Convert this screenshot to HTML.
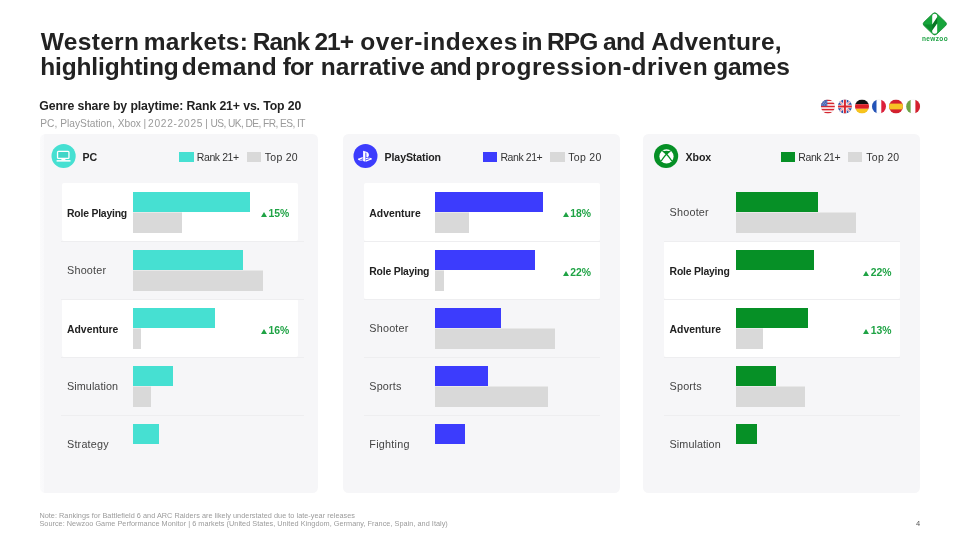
<!DOCTYPE html>
<html lang="en"><head><meta charset="utf-8"><title>Western markets: Rank 21+ over-indexes in RPG and Adventure</title>
<style>
html,body{margin:0;padding:0}
body{width:960px;height:540px;position:relative;overflow:hidden;background:#fff;font-family:"Liberation Sans",sans-serif;color:#222}
div,span,svg{position:absolute;white-space:nowrap}
.title{left:40px;font-size:24.5px;line-height:26px;font-weight:bold;color:#222}
.sub{left:39.3px;top:98.2px;font-size:12.3px;line-height:16px;font-weight:bold;color:#222;letter-spacing:-0.125px}
.sub2{left:39.3px;top:117.1px;font-size:10.2px;line-height:14px;color:#9a9a9a;letter-spacing:-0.107px}
.panel{top:133.6px;height:359.8px;background:#f6f6f8;border-radius:5.5px}
.card{height:58px;background:#fff;border-radius:2px}
.sep{height:1px;background:#eeeef0}
.ic{width:26px;height:26px}
.pname{top:149.9px;letter-spacing:-0.12px;font-size:10.6px;line-height:14px;font-weight:bold;color:#222}
.sw{top:152.1px;width:14.4px;height:10.2px}
.lt{top:150px;font-size:10.5px;line-height:14px;color:#333}
.lab{font-size:10.8px;line-height:14px;color:#444}
.lab.b{font-weight:bold;color:#222;font-size:10.4px}
.bar{height:20.2px}
.g{background:#d9d9d9}
.bar.g{box-shadow:inset 0 1px 0 rgba(255,255,255,.4)}
.pct{font-size:10.4px;line-height:14px;font-weight:bold;color:#1fa345}
.pct i{position:relative;display:inline-block;width:0;height:0;border-left:3.1px solid transparent;border-right:3.1px solid transparent;border-bottom:5.6px solid #1fa345;margin-right:1.5px;top:0.3px}
.foot{left:39.4px;top:511.9px;font-size:7.3px;line-height:8.25px;color:#9b9b9b;letter-spacing:0.03px}
.pg{left:916px;top:518.6px;font-size:7.5px;line-height:9px;color:#555}
.flag{width:16px;height:16px}
</style></head><body>
<div class="title" style="top:28.5px;left:0;width:960px;height:26px"><span style="left:40.7px;letter-spacing:0.34px">Western</span> <span style="left:143.7px;letter-spacing:0.30px">markets:</span> <span style="left:252.8px;letter-spacing:-0.90px">Rank</span> <span style="left:314.4px;letter-spacing:-0.90px">21+</span> <span style="left:360.3px;letter-spacing:0.53px">over-indexes</span> <span style="left:521.6px;letter-spacing:-0.90px">in</span> <span style="left:546.9px;letter-spacing:-0.90px">RPG</span> <span style="left:603.0px;letter-spacing:-0.70px">and</span> <span style="left:651.3px;letter-spacing:0.26px">Adventure,</span> </div>
<div class="title" style="top:54.2px;left:0;width:960px;height:26px"><span style="left:40.3px;letter-spacing:-0.16px">highlighting</span> <span style="left:181.7px;letter-spacing:0.23px">demand</span> <span style="left:282.7px;letter-spacing:-0.90px">for</span> <span style="left:320.7px;letter-spacing:0.08px">narrative</span> <span style="left:429.9px;letter-spacing:-0.90px">and</span> <span style="left:475.3px;letter-spacing:0.54px">progression-driven</span> <span style="left:713.2px;letter-spacing:-0.25px">games</span> </div>

<div class="sub">Genre share by playtime: Rank 21+ vs. Top 20</div>
<div class="sub2" style="left:0;width:960px;height:14px;letter-spacing:0"><span style="left:40.3px;letter-spacing:0.02px">PC, PlayStation, Xbox</span> <span style="left:143.4px;letter-spacing:0.00px">|</span> <span style="left:148.1px;letter-spacing:0.71px">2022-2025</span> <span style="left:205.3px;letter-spacing:0.00px">|</span> <span style="left:210.6px;letter-spacing:-0.58px">US, UK, DE, FR, ES, IT</span> </div>

<svg style="left:920px;top:10px;width:30px;height:28px" viewBox="0 0 30 28">
<path d="M12.700 3.700a3.000 3.000 0 0 1 4.200 0l8.600 8.200a2.700 2.700 0 0 1 0 3.900l-8.600 8.200a3.000 3.000 0 0 1-4.200 0l-8.600-8.200a2.700 2.700 0 0 1 0-3.900z" fill="#17a53b" stroke="#0a8428" stroke-width="0.7"/>
<path d="M12.200 14.500L4.000 14.500l8.200 7.800z" fill="#0d8c2d"/>
<path d="M17.200 7.100v6.300l-5 7v-5.900z" fill="#087523"/>
<path d="M12.200 6.300a2.500 2.500 0 0 1 5 0v0.800l-5 7.400z" fill="#fff"/>
<path d="M17.200 21.300a2.500 2.500 0 0 1-5 0v-0.900l5-7z" fill="#fff"/>
</svg>
<div style="left:920px;top:35.4px;width:30px;text-align:center;font-size:6.5px;line-height:8px;font-weight:bold;color:#1fa345;letter-spacing:0.35px">newzoo</div>
<svg class="flag" viewBox="-1.90 -1.50 16 16" style="left:819px;top:98px"><defs><clipPath id="cus"><circle cx="7" cy="7" r="7"/></clipPath></defs><g clip-path="url(#cus)"><rect width="14" height="14" fill="#fff"/><g fill="#d8262f"><rect y="0.00" width="14" height="1.56"/><rect y="3.11" width="14" height="1.56"/><rect y="6.22" width="14" height="1.56"/><rect y="9.33" width="14" height="1.56"/><rect y="12.44" width="14" height="1.56"/></g><rect width="6.4" height="6.6" fill="#4a66b4"/><g fill="#c9d2ea"><circle cx="1.9" cy="2.4" r=".45"/><circle cx="3.7" cy="2.4" r=".45"/><circle cx="5.4" cy="2.4" r=".45"/><circle cx="2.8" cy="3.9" r=".45"/><circle cx="4.6" cy="3.9" r=".45"/><circle cx="1.9" cy="5.4" r=".45"/><circle cx="3.7" cy="5.4" r=".45"/><circle cx="5.4" cy="5.4" r=".45"/></g></g><circle cx="7" cy="7" r="6.85" fill="none" stroke="rgba(120,120,120,0.18)" stroke-width="0.3"/></svg>
<svg class="flag" viewBox="-1.90 -1.50 16 16" style="left:836px;top:98px"><defs><clipPath id="cuk"><circle cx="7" cy="7" r="7"/></clipPath></defs><g clip-path="url(#cuk)"><rect width="14" height="14" fill="#2a4fa8"/><path d="M0 0L14 14M14 0L0 14" stroke="#fff" stroke-width="2"/><path d="M0 0L14 14M14 0L0 14" stroke="#d8262f" stroke-width="0.7"/><path d="M7 0V14M0 7H14" stroke="#fff" stroke-width="3.6"/><path d="M7 0V14M0 7H14" stroke="#d8262f" stroke-width="2"/></g><circle cx="7" cy="7" r="6.85" fill="none" stroke="rgba(120,120,120,0.18)" stroke-width="0.3"/></svg>
<svg class="flag" viewBox="-1.00 -1.50 16 16" style="left:854px;top:98px"><defs><clipPath id="cde"><circle cx="7" cy="7" r="7"/></clipPath></defs><g clip-path="url(#cde)"><rect width="14" height="4.7" fill="#111"/><rect y="4.7" width="14" height="4.6" fill="#dd1f26"/><rect y="9.3" width="14" height="4.7" fill="#f8c41c"/></g><circle cx="7" cy="7" r="6.85" fill="none" stroke="rgba(120,120,120,0.18)" stroke-width="0.3"/></svg>
<svg class="flag" viewBox="-1.00 -1.50 16 16" style="left:871px;top:98px"><defs><clipPath id="cfr"><circle cx="7" cy="7" r="7"/></clipPath></defs><g clip-path="url(#cfr)"><rect width="4.7" height="14" fill="#2353b8"/><rect x="4.7" width="4.6" height="14" fill="#fff"/><rect x="9.3" width="4.7" height="14" fill="#dd1f3a"/></g><circle cx="7" cy="7" r="6.85" fill="none" stroke="rgba(120,120,120,0.18)" stroke-width="0.3"/></svg>
<svg class="flag" viewBox="-1.00 -1.50 16 16" style="left:888px;top:98px"><defs><clipPath id="ces"><circle cx="7" cy="7" r="7"/></clipPath></defs><g clip-path="url(#ces)"><rect width="14" height="14" fill="#d4202e"/><rect y="4.1" width="14" height="5.8" fill="#f7c325"/></g><circle cx="7" cy="7" r="6.85" fill="none" stroke="rgba(120,120,120,0.18)" stroke-width="0.3"/></svg>
<svg class="flag" viewBox="-1.10 -1.50 16 16" style="left:905px;top:98px"><defs><clipPath id="cit"><circle cx="7" cy="7" r="7"/></clipPath></defs><g clip-path="url(#cit)"><rect width="4.7" height="14" fill="#6da544"/><rect x="4.700" width="4.600" height="14" fill="#fff"/><rect x="9.300" width="4.700" height="14" fill="#d4202e"/></g><circle cx="7" cy="7" r="6.85" fill="none" stroke="rgba(120,120,120,0.18)" stroke-width="0.3"/></svg>
<div class="panel" style="left:40.2px;width:277.6px;background:linear-gradient(90deg,#fbfbfc 0,#f9f9fb 3.6px,#f6f6f8 4.2px)"></div>
<svg class="ic" viewBox="-1.60 -1.00 26 26" style="left:50px;top:143px"><circle cx="12" cy="12" r="12.1" fill="#46e0d2"/><rect x="5.95" y="7.3" width="11.4" height="7" rx="0.9" fill="#3fd6c8" stroke="#fff" stroke-width="1.3"/><rect x="9.8" y="14.9" width="4" height="1.4" fill="#fff"/><rect x="5" y="16.1" width="13.9" height="1.5" fill="#fff"/></svg>
<div class="pname" style="left:82.6px">PC</div>
<div class="sw" style="left:179.4px;background:#46e0d2"></div><div class="lt" style="left:196.8px;letter-spacing:-0.42px">Rank 21+</div><div class="sw g" style="left:246.6px"></div><div class="lt" style="left:264.7px;letter-spacing:0.3px">Top 20</div>
<div class="card" style="left:61.5px;top:182.6px;width:236.0px;height:58.4px"></div>
<div class="card" style="left:61.5px;top:298.6px;width:236.0px;height:58.4px"></div>
<div class="sep" style="left:60.5px;top:240.5px;width:243.0px"></div>
<div class="sep" style="left:60.5px;top:298.5px;width:243.0px"></div>
<div class="sep" style="left:60.5px;top:356.5px;width:243.0px"></div>
<div class="sep" style="left:60.5px;top:414.5px;width:243.0px"></div>
<div class="lab b" style="left:67.0px;top:206.6px;letter-spacing:-0.2px">Role Playing</div><div class="bar" style="left:133px;top:191.6px;width:117.0px;background:#46e0d2"></div><div class="bar g" style="left:133px;top:212px;height:20.6px;width:49.2px"></div><div class="pct" style="right:670.7px;top:207.1px"><i></i>15%</div>
<div class="lab" style="left:67.0px;top:263.4px;letter-spacing:0.21px">Shooter</div><div class="bar" style="left:133px;top:249.6px;width:110.0px;background:#46e0d2"></div><div class="bar g" style="left:133px;top:270px;height:20.6px;width:129.7px"></div>
<div class="lab b" style="left:67.0px;top:322.6px;letter-spacing:0px">Adventure</div><div class="bar" style="left:133px;top:307.6px;width:82.3px;background:#46e0d2"></div><div class="bar g" style="left:133px;top:328px;height:20.6px;width:7.6px"></div><div class="pct" style="right:670.7px;top:324.1px"><i></i>16%</div>
<div class="lab" style="left:67.0px;top:379.4px;letter-spacing:0.07px">Simulation</div><div class="bar" style="left:133px;top:365.6px;width:40.3px;background:#46e0d2"></div><div class="bar g" style="left:133px;top:386px;height:20.6px;width:18.1px"></div>
<div class="lab" style="left:67.0px;top:437.4px;letter-spacing:0.2px">Strategy</div><div class="bar" style="left:133px;top:423.6px;width:25.6px;background:#46e0d2"></div>
<div class="panel" style="left:342.8px;width:277.2px"></div>
<svg class="ic" viewBox="-1.50 -1.00 26 26" style="left:352px;top:143px"><circle cx="12" cy="12" r="12" fill="#3c3cfd"/><path transform="translate(-0.15 1.05) scale(0.92)" d="M10.6 6.2v11.2l2.5.8V8.8c0-.45.2-.75.52-.64.42.12.5.53.5.98v3.75c1.56.75 2.8 0 2.8-2 0-2.04-.72-2.95-2.84-3.68-.84-.28-2.4-.75-3.48-1.01zM13.6 16.6l4-1.42c.46-.17.53-.4.16-.52-.38-.12-1.06-.09-1.52.08l-2.64.93v-1.48l.15-.05s.77-.27 1.85-.39c1.08-.12 2.4.02 3.44.41 1.17.37 1.3.92 1 1.29-.3.38-1.02.65-1.02.65l-5.42 1.95V16.6zM6.1 16.45c-1.2-.34-1.4-1.04-.85-1.45.5-.37 1.36-.65 1.36-.65l3.55-1.26v1.44l-2.55.91c-.45.16-.52.39-.15.51.37.12 1.05.09 1.5-.08l1.2-.44v1.29l-.24.04c-1.22.2-2.52.12-3.82-.31z" fill="#fff"/></svg>
<div class="pname" style="left:384.6px">PlayStation</div>
<div class="sw" style="left:483px;background:#3c3cfd"></div><div class="lt" style="left:500.4px;letter-spacing:-0.42px">Rank 21+</div><div class="sw g" style="left:550.2px"></div><div class="lt" style="left:568.3px;letter-spacing:0.3px">Top 20</div>
<div class="card" style="left:364.1px;top:182.6px;width:235.9px;height:58.4px"></div>
<div class="card" style="left:364.1px;top:240.6px;width:235.9px;height:58.4px"></div>
<div class="sep" style="left:364px;top:240.5px;width:236.0px"></div>
<div class="sep" style="left:364px;top:298.5px;width:236.0px"></div>
<div class="sep" style="left:364px;top:356.5px;width:236.0px"></div>
<div class="sep" style="left:364px;top:414.5px;width:236.0px"></div>
<div class="lab b" style="left:369.3px;top:206.6px;letter-spacing:0px">Adventure</div><div class="bar" style="left:435.2px;top:191.6px;width:107.7px;background:#3c3cfd"></div><div class="bar g" style="left:435.2px;top:212px;height:20.6px;width:33.9px"></div><div class="pct" style="right:369.0px;top:207.1px"><i></i>18%</div>
<div class="lab b" style="left:369.3px;top:264.6px;letter-spacing:-0.2px">Role Playing</div><div class="bar" style="left:435.2px;top:249.6px;width:99.6px;background:#3c3cfd"></div><div class="bar g" style="left:435.2px;top:270px;height:20.6px;width:8.7px"></div><div class="pct" style="right:369.0px;top:266.1px"><i></i>22%</div>
<div class="lab" style="left:369.3px;top:321.4px;letter-spacing:0.21px">Shooter</div><div class="bar" style="left:435.2px;top:307.6px;width:66.0px;background:#3c3cfd"></div><div class="bar g" style="left:435.2px;top:328px;height:20.6px;width:120.3px"></div>
<div class="lab" style="left:369.3px;top:379.4px;letter-spacing:0.18px">Sports</div><div class="bar" style="left:435.2px;top:365.6px;width:53.1px;background:#3c3cfd"></div><div class="bar g" style="left:435.2px;top:386px;height:20.6px;width:113.1px"></div>
<div class="lab" style="left:369.3px;top:437.4px;letter-spacing:0.26px">Fighting</div><div class="bar" style="left:435.2px;top:423.6px;width:30.0px;background:#3c3cfd"></div>
<div class="panel" style="left:642.8px;width:277px"></div>
<svg class="ic" viewBox="-1.10 -1.00 26 26" style="left:653px;top:143px"><circle cx="12" cy="12" r="12.1" fill="#069026"/><circle cx="12.4" cy="12.4" r="7.1" fill="#fff"/><path d="M8.700 7.500Q12.400 6.200 16.100 7.500L12.400 11.000Z" fill="#069026"/><path d="M8.300 6.700Q13.300 10.000 17.700 17.000M16.500 6.700Q11.500 10.000 7.100 17.000" fill="none" stroke="#069026" stroke-width="1.35"/></svg>
<div class="pname" style="left:685.6px">Xbox</div>
<div class="sw" style="left:780.9px;background:#069026"></div><div class="lt" style="left:798.3px;letter-spacing:-0.42px">Rank 21+</div><div class="sw g" style="left:848.1px"></div><div class="lt" style="left:866.1999999999999px;letter-spacing:0.3px">Top 20</div>
<div class="card" style="left:664.1px;top:240.6px;width:235.9px;height:58.4px"></div>
<div class="card" style="left:664.1px;top:298.6px;width:235.9px;height:58.4px"></div>
<div class="sep" style="left:664px;top:240.5px;width:236.0px"></div>
<div class="sep" style="left:664px;top:298.5px;width:236.0px"></div>
<div class="sep" style="left:664px;top:356.5px;width:236.0px"></div>
<div class="sep" style="left:664px;top:414.5px;width:236.0px"></div>
<div class="lab" style="left:669.6px;top:205.4px;letter-spacing:0.21px">Shooter</div><div class="bar" style="left:735.5px;top:191.6px;width:82.5px;background:#069026"></div><div class="bar g" style="left:735.5px;top:212px;height:20.6px;width:120.3px"></div>
<div class="lab b" style="left:669.6px;top:264.6px;letter-spacing:-0.2px">Role Playing</div><div class="bar" style="left:735.5px;top:249.6px;width:78.9px;background:#069026"></div><div class="pct" style="right:68.5px;top:266.1px"><i></i>22%</div>
<div class="lab b" style="left:669.6px;top:322.6px;letter-spacing:0px">Adventure</div><div class="bar" style="left:735.5px;top:307.6px;width:72.6px;background:#069026"></div><div class="bar g" style="left:735.5px;top:328px;height:20.6px;width:27.6px"></div><div class="pct" style="right:68.5px;top:324.1px"><i></i>13%</div>
<div class="lab" style="left:669.6px;top:379.4px;letter-spacing:0.18px">Sports</div><div class="bar" style="left:735.5px;top:365.6px;width:40.2px;background:#069026"></div><div class="bar g" style="left:735.5px;top:386px;height:20.6px;width:69.6px"></div>
<div class="lab" style="left:669.6px;top:437.4px;letter-spacing:0.07px">Simulation</div><div class="bar" style="left:735.5px;top:423.6px;width:21.6px;background:#069026"></div>
<div class="foot">Note: Rankings for Battlefield 6 and ARC Raiders are likely understated due to late-year releases</div>
<div class="foot" style="top:520.2px">Source: Newzoo Game Performance Monitor | 6 markets (United States, United Kingdom, Germany, France, Spain, and Italy)</div>
<div class="pg">4</div>
</body></html>
